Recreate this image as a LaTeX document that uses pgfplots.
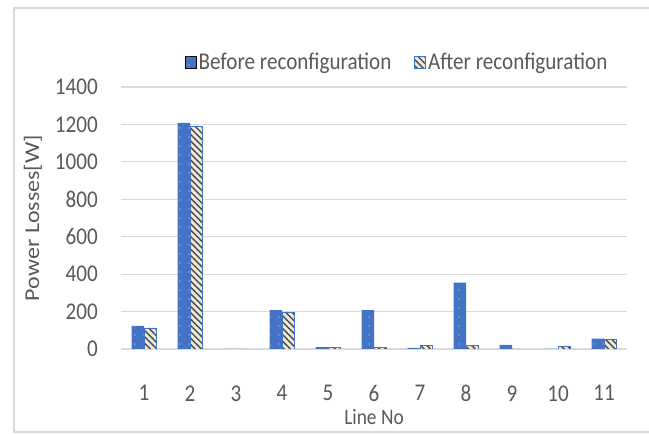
\documentclass[border=0pt]{standalone}
\usepackage{pgfplots}
\pgfplotsset{compat=1.18}
\usepackage{fontspec}
\setmainfont{Carlito}[FakeStretch=0.88]
\newfontfamily\labelfont{Carlito}
\usetikzlibrary{patterns.meta}

\definecolor{barblue}{HTML}{4472C4}
\definecolor{stripe}{HTML}{3E4A66}
\definecolor{cream}{HTML}{F1E9CC}
\definecolor{gridgray}{HTML}{D9D9D9}
\definecolor{textgray}{HTML}{595959}

\begin{document}
\begin{tikzpicture}
  \useasboundingbox (0pt,0pt) rectangle (649pt,434pt);
  % chart area frame
  \draw[gridgray, line width=1.6pt] (649pt,426pt) -- (14pt,426pt) -- (14pt,2pt) -- (649pt,2pt);
  \begin{axis}[
    at={(121pt,85pt)}, anchor=south west,
    scale only axis, width=506pt, height=262pt,
    xmin=0.5, xmax=11.5, ymin=0, ymax=1400,
    ybar=0pt, bar width=12.5pt,
    axis line style={draw=none},
    ymajorgrids, grid style={gridgray, line width=1.2pt},
    ytick={0,200,...,1400},
    xtick={1,...,11},
    tick style={draw=none},
    font=\fontsize{24}{26}\selectfont\color{textgray},
    /pgf/number format/assume math mode=true,
    /pgf/number format/1000 sep={},
    yticklabel style={anchor=east, inner sep=0pt, xshift=-23pt},
    xticklabel style={anchor=north, inner sep=0pt, yshift=-32pt},
    legend columns=2,
    legend style={draw=none, fill=none, at={(0.1265,1.095)}, anchor=west,
      inner sep=0pt, font=\fontsize{24}{26}\selectfont\color{textgray},
      /tikz/every even column/.append style={column sep=21pt},
      nodes={inner sep=2pt}},
    legend image code/.code={\draw[#1] (0pt,-6pt) rectangle (11pt,6pt);},
  ]
    \addplot[fill=barblue, draw=none,
      postaction={pattern={Dots[distance=9pt, radius=0.6pt]}, pattern color=white!80!barblue}]
      coordinates {(1,123) (2,1208) (3,0) (4,208) (5,10) (6,208) (7,6) (8,354) (9,22) (10,0) (11,55)};
    \addlegendentry{Before reconfiguration}
    \addplot[fill=cream, draw=barblue, line width=0.7pt,
      postaction={pattern={Lines[angle=-45, distance=4.5pt, line width=1.4pt]}, pattern color=stripe}]
      coordinates {(1,113) (2,1190) (3,0) (4,195) (5,10) (6,8) (7,18) (8,18) (9,0) (10,15) (11,50)};
    \addlegendentry{After reconfiguration}
  \end{axis}
  % axis titles
  \node[textgray, inner sep=0pt, font=\fontsize{22}{24}\selectfont] at (374pt,17pt) {Line No};
  \node[textgray, rotate=90] at (33pt,216pt)
    {\scalebox{1}[0.88]{\labelfont\fontsize{24}{26}\selectfont Power Losses[W]}};
\end{tikzpicture}
\end{document}
